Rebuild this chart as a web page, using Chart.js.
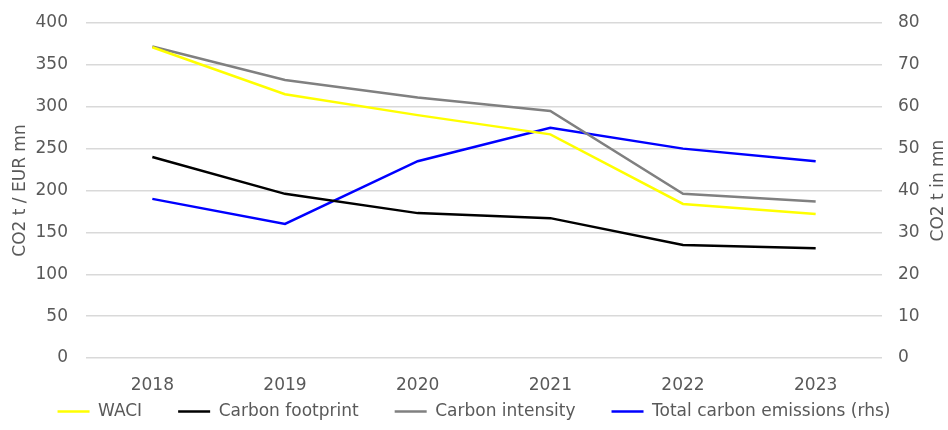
<!DOCTYPE html>
<html>
<head>
<meta charset="utf-8">
<script src="https://cdn.jsdelivr.net/npm/chart.js@4"></script>
<style>
    body { margin: 0; background: #fff; }
    #wrap { width: 948px; height: 430px; }
</style>
</head>
<body>
<div id="wrap"><canvas id="emissionsChart" width="948" height="430"></canvas></div>
<script>
// Values
const years = ['2018', '2019', '2020', '2021', '2022', '2023'];
const waci = [371, 315, 290, 267, 184, 172];
const carbonFootprint = [240, 196, 173, 167, 135, 131];
const carbonIntensity = [372, 332, 311, 295, 196, 187];
const totalEmissions = [38, 32, 47, 55, 50, 47];

const leftTicks = [0, 50, 100, 150, 200, 250, 300, 350, 400];
const rightTicks = [0, 10, 20, 30, 40, 50, 60, 70, 80];

const textColor = '#595959';
const gridColor = '#d9d9d9';
const fontFamily = '"DejaVu Sans", sans-serif';
const fontSize = 17;

function makeLine(label, data, color, axis) {
    return {
        label: label,
        data: data,
        borderColor: color,
        backgroundColor: color,
        borderWidth: 2.5,
        pointRadius: 0,
        tension: 0,
        yAxisID: axis
    };
}

// right axis title reads bottom-to-top like the left one
const rightTitlePlugin = {
    id: 'rightTitle',
    afterDraw(chart) {
        const { ctx, chartArea } = chart;
        ctx.save();
        ctx.translate(939, (chartArea.top + chartArea.bottom) / 2);
        ctx.rotate(-Math.PI / 2);
        ctx.fillStyle = textColor;
        ctx.font = fontSize + 'px ' + fontFamily;
        ctx.textAlign = 'center';
        ctx.textBaseline = 'middle';
        ctx.fillText('CO2 t in mn', 0, 0);
        ctx.restore();
    }
};

function renderEmissionsChart() {
    const ctx = document.getElementById('emissionsChart').getContext('2d');
    new Chart(ctx, {
        type: 'line',
        data: {
            labels: years,
            datasets: [
                makeLine('WACI', waci, '#ffff00', 'y'),
                makeLine('Carbon footprint', carbonFootprint, '#000000', 'y'),
                makeLine('Carbon intensity', carbonIntensity, '#808080', 'y'),
                makeLine('Total carbon emissions (rhs)', totalEmissions, '#0000ff', 'y1')
            ]
        },
        plugins: [rightTitlePlugin],
        options: {
            responsive: false,
            animation: false,
            layout: { padding: { left: 0, right: 0, top: 23, bottom: 0 } },
            plugins: {
                legend: {
                    position: 'bottom',
                    labels: {
                        usePointStyle: true,
                        pointStyle: 'line',
                        pointStyleWidth: 32,
                        color: textColor,
                        font: { family: fontFamily, size: fontSize },
                        padding: 36
                    }
                },
                tooltip: { enabled: false }
            },
            scales: {
                x: {
                    offset: true,
                    grid: { display: false, drawTicks: false },
                    border: { display: false },
                    ticks: { color: textColor, font: { family: fontFamily, size: fontSize }, padding: 17 },
                    afterFit: axis => {
                        // thin axis box so the legend sits close; labels are allowed to spill below it
                        axis.height = 9;
                        axis._computeLabelArea = () => undefined;
                    }
                },
                y: {
                    position: 'left',
                    min: 0,
                    max: 400,
                    afterBuildTicks: axis => { axis.ticks = leftTicks.map(v => ({ value: v })); },
                    afterFit: axis => { axis.width = 86; },
                    grid: { color: gridColor, lineWidth: 1.5, drawTicks: true, tickLength: 18, tickColor: 'rgba(0,0,0,0)' },
                    border: { display: false },
                    ticks: { color: textColor, font: { family: fontFamily, size: fontSize }, padding: 0 },
                    title: {
                        display: true,
                        text: 'CO2 t / EUR mn',
                        color: textColor,
                        font: { family: fontFamily, size: fontSize },
                        padding: { top: 10, bottom: 0 }
                    }
                },
                y1: {
                    position: 'right',
                    min: 0,
                    max: 80,
                    afterBuildTicks: axis => { axis.ticks = rightTicks.map(v => ({ value: v })); },
                    afterFit: axis => { axis.width = 66; },
                    grid: { display: false, drawTicks: true, tickLength: 16 },
                    border: { display: false },
                    ticks: { color: textColor, font: { family: fontFamily, size: fontSize }, padding: 0 }
                }
            }
        }
    });
}

renderEmissionsChart();
</script>
</body>
</html>
